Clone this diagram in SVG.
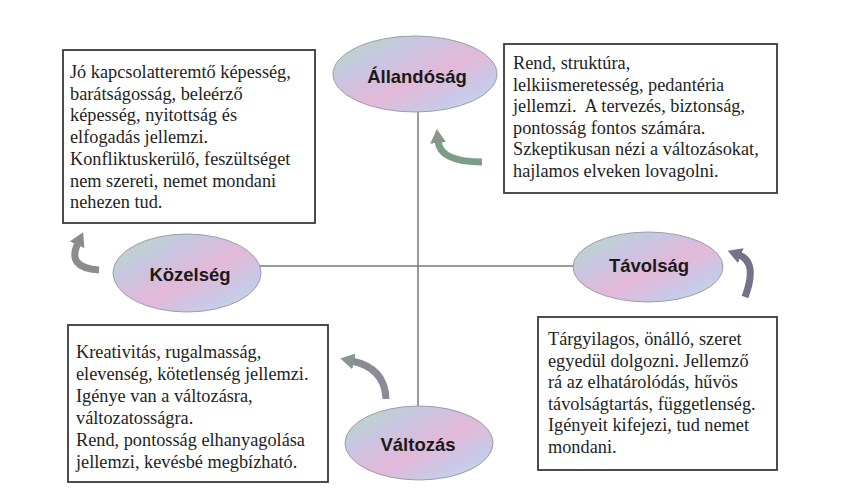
<svg xmlns="http://www.w3.org/2000/svg" width="843" height="493" viewBox="0 0 843 493">
<style>
.box{fill:#ffffff;stroke:#3a3a3a;stroke-width:1.8}
.bt{font-family:'Liberation Serif','DejaVu Serif','Times New Roman',serif;font-size:18.3px;fill:#1e1e1e}
.ell{fill:url(#pastel);stroke:#9c9cac;stroke-width:1}
.lbl{font-family:'Liberation Sans',Arial,sans-serif;font-size:18.5px;font-weight:bold;fill:#1a1a1a;text-anchor:middle}
.axis{stroke:#7a7a7a;stroke-width:1.5;fill:none}
.arr{fill:none;stroke-width:7;stroke-linecap:butt}
</style>
<defs>
<linearGradient id="pastel" x1="0" y1="0" x2="1" y2="1">
<stop offset="0" stop-color="#b3ddbd"/>
<stop offset="0.3" stop-color="#c8c6e2"/>
<stop offset="0.55" stop-color="#e4b8d8"/>
<stop offset="0.8" stop-color="#c6cbe9"/>
<stop offset="1" stop-color="#d6e6c6"/>
</linearGradient>
<marker id="hA" markerUnits="userSpaceOnUse" markerWidth="14" markerHeight="16" viewBox="0 0 14 16" refX="2" refY="8" orient="auto"><path d="M0,0 L14,8 L0,16 z" fill="#8a968c"/></marker>
<marker id="hK" markerUnits="userSpaceOnUse" markerWidth="14" markerHeight="16" viewBox="0 0 14 16" refX="2" refY="8" orient="auto"><path d="M0,0 L14,8 L0,16 z" fill="#8a8a8a"/></marker>
<marker id="hT" markerUnits="userSpaceOnUse" markerWidth="14" markerHeight="16" viewBox="0 0 14 16" refX="2" refY="8" orient="auto"><path d="M0,0 L14,8 L0,16 z" fill="#77728a"/></marker>
<marker id="hV" markerUnits="userSpaceOnUse" markerWidth="14" markerHeight="16" viewBox="0 0 14 16" refX="2" refY="8" orient="auto"><path d="M0,0 L14,8 L0,16 z" fill="#8a9490"/></marker>
</defs>
<rect width="843" height="493" fill="#ffffff"/>
<g id="connectors">
<line class="axis" x1="418" y1="110" x2="418" y2="407"/>
<line class="axis" x1="259" y1="266" x2="575" y2="266"/>
<path class="arr" stroke="#7f9d85" d="M482,162 Q440,162 438,141" marker-end="url(#hA)"/>
<path class="arr" stroke="#8c8c8c" d="M99,270 Q66,268 78,243" marker-end="url(#hK)"/>
<path class="arr" stroke="#76708a" d="M745,297 Q758,262 739,255" marker-end="url(#hT)"/>
<path class="arr" stroke="#8a8a98" d="M386,399 Q385,368 352,361" marker-end="url(#hV)"/>
</g>
<g id="node-allandosag">
<ellipse class="ell" cx="415" cy="74" rx="82" ry="38"/>
<text class="lbl" x="417" y="83">Állandóság</text>
</g>
<g id="node-kozelseg">
<ellipse class="ell" cx="187" cy="273" rx="74" ry="39"/>
<text class="lbl" x="190" y="281">Közelség</text>
</g>
<g id="node-tavolsag">
<ellipse class="ell" cx="648" cy="267" rx="75" ry="35"/>
<text class="lbl" x="649" y="272">Távolság</text>
</g>
<g id="node-valtozas">
<ellipse class="ell" cx="419" cy="443" rx="74" ry="37"/>
<text class="lbl" x="418" y="451">Változás</text>
</g>
<g id="box-kozelseg">
<rect class="box" x="63" y="50" width="252" height="173"/>
<text class="bt" x="70" y="78">Jó kapcsolatteremtő képesség,</text>
<text class="bt" x="70" y="99.7">barátságosság, beleérző</text>
<text class="bt" x="70" y="121.4">képesség, nyitottság és</text>
<text class="bt" x="70" y="143.1">elfogadás jellemzi.</text>
<text class="bt" x="70" y="164.8">Konfliktuskerülő, feszültséget</text>
<text class="bt" x="70" y="186.5">nem szereti, nemet mondani</text>
<text class="bt" x="70" y="208.2">nehezen tud.</text>
</g>
<g id="box-allandosag">
<rect class="box" x="504" y="44" width="273" height="149"/>
<text class="bt" x="513" y="69.3">Rend, struktúra,</text>
<text class="bt" x="513" y="90.8">lelkiismeretesség, pedantéria</text>
<text class="bt" x="513" y="112.3" xml:space="preserve">jellemzi.  A tervezés, biztonság,</text>
<text class="bt" x="513" y="133.8">pontosság fontos számára.</text>
<text class="bt" x="513" y="155.3">Szkeptikusan nézi a változásokat,</text>
<text class="bt" x="513" y="176.8">hajlamos elveken lovagolni.</text>
</g>
<g id="box-valtozas">
<rect class="box" x="68" y="325" width="260" height="157"/>
<text class="bt" x="76" y="358">Kreativitás, rugalmasság,</text>
<text class="bt" x="76" y="380">elevenség, kötetlenség jellemzi.</text>
<text class="bt" x="76" y="402">Igénye van a változásra,</text>
<text class="bt" x="76" y="424">változatosságra.</text>
<text class="bt" x="76" y="446">Rend, pontosság elhanyagolása</text>
<text class="bt" x="76" y="468">jellemzi, kevésbé megbízható.</text>
</g>
<g id="box-tavolsag">
<rect class="box" x="538" y="317" width="239" height="153"/>
<text class="bt" x="548" y="345">Tárgyilagos, önálló, szeret</text>
<text class="bt" x="548" y="366.6">egyedül dolgozni. Jellemző</text>
<text class="bt" x="548" y="388.2">rá az elhatárolódás, hűvös</text>
<text class="bt" x="548" y="409.8">távolságtartás, függetlenség.</text>
<text class="bt" x="548" y="431.4">Igényeit kifejezi, tud nemet</text>
<text class="bt" x="548" y="453">mondani.</text>
</g>
</svg>
